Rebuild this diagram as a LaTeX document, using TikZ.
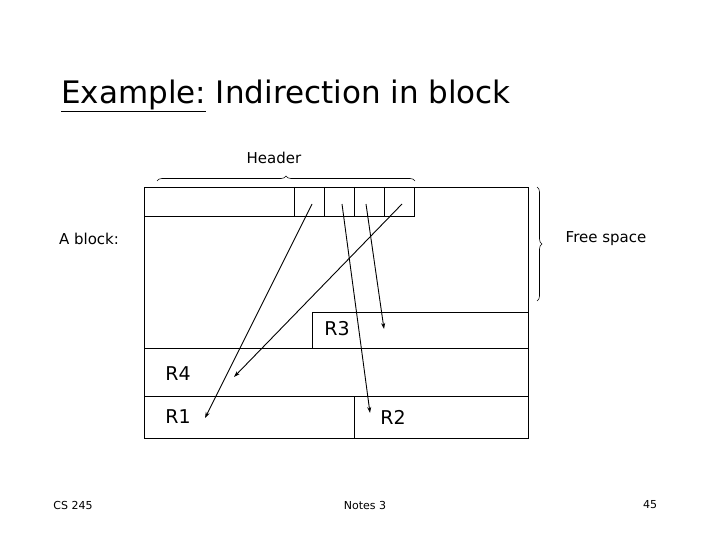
\documentclass[tikz,border=0pt]{standalone}
\usepackage{fontspec}
\setmainfont{DejaVu Sans}
\usetikzlibrary{decorations.pathreplacing,arrows.meta}
\begin{document}
\begin{tikzpicture}[x=1pt,y=-1pt,
  box/.style={draw,line width=0.8pt},
  ptr/.style={-{Stealth[length=6pt,width=4pt]},line width=0.9pt},
  lbl/.style={font=\fontsize{19}{22}\selectfont,inner sep=0pt},
  foot/.style={font=\fontsize{11}{13}\selectfont,inner sep=0pt},
  brace/.style={decorate,decoration={brace,amplitude=5pt},line width=0.6pt}]
\useasboundingbox (0,0) rectangle (720,540);
\node[anchor=west,inner sep=0pt,font=\fontsize{31}{36}\selectfont] (title) at (61,96) {\underline{Example:} Indirection in block};
% block
\draw[box] (144,187) rectangle (528,438);
\draw[box] (144,216) -- (414,216) -- (414,187);
\foreach \x in {294,324,354,384} \draw[box] (\x,187) -- (\x,216);
\draw[box] (312,348) -- (312,312) -- (528,312);
\draw[box] (144,348) -- (528,348);
\draw[box] (144,396) -- (528,396);
\draw[box] (354,396) -- (354,438);
\coordinate (s1) at (312,204);
\coordinate (s2) at (342,204);
\coordinate (s3) at (366,204);
\coordinate (s4) at (402,204);
\coordinate (e1) at (205,418);
\coordinate (e2) at (370,413);
\coordinate (e3) at (384,329);
\coordinate (e4) at (234,377);
\draw[ptr] (s1) -- (e1);
\draw[ptr] (s2) -- (e2);
\draw[ptr] (s3) -- (e3);
\draw[ptr] (s4) -- (e4);
\node[lbl] (r3) at (337,329) {R3};
\node[lbl] (r4) at (178,374) {R4};
\node[lbl] (r1) at (178,417) {R1};
\node[lbl] (r2) at (393,417) {R2};
% braces
\draw[brace] (157,181) -- (415,181);
\node[font=\fontsize{15}{18}\selectfont,inner sep=0pt] (hdr) at (274,158) {Header};
\draw[brace] (537,187) -- (537,301);
\node[font=\fontsize{15}{18}\selectfont,inner sep=0pt] (fs) at (606,239) {Free space};
\node[font=\fontsize{15}{18}\selectfont,inner sep=0pt] (ab) at (89,239) {A block:};
% footer
\node[foot] (f1) at (73,505) {CS 245};
\node[foot] (f2) at (365,505) {Notes 3};
\node[foot] (f3) at (650,505) {45};
\end{tikzpicture}
\end{document}
